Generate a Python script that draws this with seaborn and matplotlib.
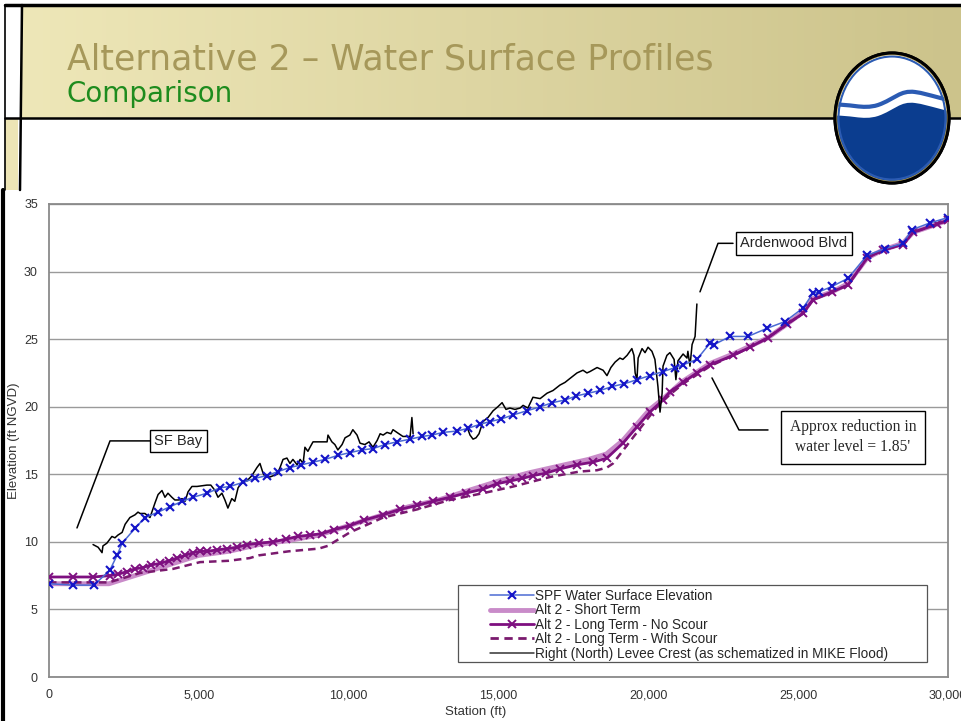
import numpy as np
import pandas as pd
import matplotlib
matplotlib.use("Agg")
from matplotlib import pyplot as plt
from matplotlib.lines import Line2D
from matplotlib.patches import Ellipse, Rectangle, PathPatch
from matplotlib.path import Path
from matplotlib.ticker import FuncFormatter, MultipleLocator
import seaborn as sns

# SPF water surface elevation (blue, x markers)
spf_station = [0, 800, 1500, 2030, 2270, 2440, 2870, 3200, 3640, 4040, 4440, 4810, 5270, 5710,
               6040, 6470, 6870, 7270, 7640, 8040, 8420, 8810, 9210, 9640, 10040, 10440, 10810,
               11210, 11610, 12050, 12450, 12780, 13150, 13620, 13980, 14380, 14720, 15100, 15500,
               15950, 16400, 16800, 17220, 17600, 18000, 18390, 18800, 19200, 19620, 20050, 20490,
               20900, 21160, 21620, 22057, 22200, 22725, 23325, 23960, 24560, 25160, 25495, 25700,
               26130, 26663, 27297, 27897, 28498, 28798, 29398, 30000]
spf_elev = [6.9, 6.8, 6.8, 7.9, 9.0, 9.9, 11.0, 11.8, 12.2, 12.6, 13.0, 13.3, 13.6, 14.0,
            14.1, 14.4, 14.7, 14.9, 15.2, 15.5, 15.7, 15.9, 16.1, 16.4, 16.6, 16.8, 16.9,
            17.2, 17.4, 17.6, 17.8, 17.9, 18.1, 18.2, 18.4, 18.7, 18.9, 19.1, 19.4,
            19.7, 20.0, 20.3, 20.5, 20.8, 21.0, 21.2, 21.5, 21.7, 22.0, 22.3, 22.6,
            22.9, 23.1, 23.5, 24.7, 24.6, 25.2, 25.2, 25.8, 26.3, 27.3, 28.4, 28.5,
            28.9, 29.5, 31.2, 31.7, 32.1, 33.1, 33.6, 34.0]

# Alt 2 - Short Term (thick light purple)
short_station = [0, 1500, 2000, 3000, 4000, 5000, 6000, 7000, 8000, 9000, 10000, 11000, 12000,
                 13000, 14000, 15000, 16000, 17000, 18000, 18600, 19150, 19620, 20050, 20500,
                 21160, 22060, 22830, 23990, 24620, 25160, 25490, 26130, 26660, 27300, 27830,
                 28500, 28830, 29630, 30000]
short_elev = [6.9, 6.9, 6.9, 7.6, 8.3, 9.0, 9.3, 9.8, 10.1, 10.5, 11.2, 11.9, 12.6,
              13.1, 13.8, 14.5, 15.1, 15.6, 16.1, 16.5, 17.5, 18.7, 19.8, 20.6,
              21.9, 23.2, 23.9, 25.1, 26.1, 27.0, 28.0, 28.5, 29.1, 31.0, 31.6,
              32.1, 32.9, 33.5, 33.8]

# Alt 2 - Long Term - No Scour (purple, x markers)
long_station = [0, 800, 1470, 2030, 2300, 2600, 2870, 3140, 3420, 3700, 4000, 4270, 4540, 4810,
                5050, 5270, 5600, 5940, 6270, 6610, 7000, 7480, 7900, 8300, 8700, 9100, 9500,
                10040, 10500, 11150, 11700, 12280, 12800, 13380, 13900, 14480, 14950, 15380,
                15800, 16150, 16600, 17050, 17620, 18150, 18620, 19150, 19620, 20050, 20490,
                20720, 21160, 21620, 22060, 22830, 23390, 23990, 24620, 25160, 25490, 26130,
                26660, 27300, 27830, 28500, 28830, 29630, 30000]
long_elev = [7.4, 7.4, 7.4, 7.5, 7.6, 7.8, 8.0, 8.1, 8.3, 8.4, 8.6, 8.8, 9.0, 9.2,
             9.3, 9.3, 9.4, 9.5, 9.6, 9.8, 9.9, 10.0, 10.2, 10.4, 10.5, 10.6, 10.9,
             11.2, 11.6, 12.0, 12.4, 12.7, 13.0, 13.3, 13.6, 13.9, 14.3, 14.5,
             14.7, 14.9, 15.1, 15.4, 15.7, 15.9, 16.2, 17.3, 18.5, 19.6, 20.5,
             21.1, 21.8, 22.5, 23.1, 23.8, 24.4, 25.1, 26.1, 26.9, 27.9, 28.5,
             29.0, 31.0, 31.6, 32.0, 32.9, 33.5, 33.8]

# Alt 2 - Long Term - With Scour (dashed)
scour_station = [0, 1500, 2000, 2600, 3040, 4140, 5040, 6000, 6700, 7000, 8000, 9000, 9300,
                 10040, 11150, 12280, 13380, 14480, 15500, 16720, 17700, 18290, 18620, 18820,
                 19620, 20290, 20720, 21160, 22060, 22830, 23390, 23990, 24620, 25160, 25490,
                 26130, 26660, 27300, 27830, 28500, 28830, 29630, 30000]
scour_elev = [7.0, 7.0, 7.0, 7.4, 7.7, 8.0, 8.5, 8.6, 8.8, 9.0, 9.3, 9.5, 9.7,
              10.7, 11.8, 12.4, 13.1, 13.6, 14.1, 14.8, 15.2, 15.3, 15.5, 15.8,
              18.1, 20.0, 20.9, 21.7, 23.0, 23.8, 24.4, 25.1, 26.1, 26.9, 27.9,
              28.5, 29.0, 31.0, 31.6, 32.0, 32.9, 33.5, 33.8]

# Right (North) levee crest, two surveyed reaches
levee1_station = [1470, 1640, 1770, 1800, 1930, 2100, 2200, 2300, 2440, 2540, 2700, 2870, 2970,
                  3040, 3200, 3370, 3540, 3640, 3770, 3870, 3970, 4100, 4200, 4340, 4440, 4540,
                  4640, 4770, 4940, 5270, 5400, 5540, 5640, 5770, 5870, 5970, 6100, 6200, 6310,
                  6440, 6600, 6770, 6940, 7040, 7140, 7210, 7370, 7610, 7710, 7810, 7940, 8040,
                  8140, 8280, 8380, 8480, 8540, 8640, 8710, 8810, 9280, 9310, 9440, 9540, 9640,
                  9780, 9880, 10040, 10140, 10280, 10380, 10540, 10680, 10810, 10950, 11050,
                  11150, 11280, 11410, 11480, 11610, 11810, 12050, 12110, 12150]
levee1_elev = [9.8, 9.6, 9.2, 9.7, 9.9, 10.4, 10.3, 10.5, 10.7, 11.3, 11.8, 12.0, 12.2,
               12.1, 12.1, 11.8, 12.9, 13.5, 13.8, 13.3, 13.6, 13.3, 13.1, 13.1, 13.2, 13.0,
               13.7, 14.1, 14.1, 14.2, 14.2, 13.8, 13.3, 13.6, 13.1, 12.5, 13.2, 13.0, 14.0,
               14.4, 14.5, 14.9, 15.5, 15.8, 15.1, 14.8, 14.8, 15.0, 15.5, 16.1, 16.2, 15.8,
               16.1, 15.7, 16.1, 15.8, 17.0, 16.7, 17.0, 17.4, 17.4, 17.9, 17.4, 17.2, 16.8,
               17.2, 17.7, 17.9, 18.3, 17.9, 17.3, 17.2, 17.4, 17.0, 17.5, 18.0,
               17.9, 18.1, 18.0, 18.3, 18.1, 17.8, 17.8, 19.2, 18.0]
levee2_station = [13950, 14050, 14150, 14250, 14350, 14480, 14650, 14820, 14980, 15120, 15250,
                  15380, 15550, 15720, 15820, 15980, 16150, 16390, 16620, 16820, 17050, 17220,
                  17390, 17620, 17820, 17950, 18050, 18290, 18490, 18620, 18750, 18890, 19050,
                  19150, 19290, 19450, 19520, 19560, 19620, 19660, 19790, 19890, 19990, 20120,
                  20220, 20320, 20390, 20460, 20490, 20620, 20720, 20860, 20920, 20990, 21160,
                  21290, 21320, 21390, 21460, 21560, 21620]
levee2_elev = [18.5, 17.9, 17.6, 17.7, 18.0, 18.9, 19.2, 19.7, 20.0, 20.3, 19.8,
               19.9, 19.8, 19.9, 20.1, 19.9, 20.7, 20.6, 21.0, 21.2, 21.6, 21.8,
               22.1, 22.5, 22.7, 22.5, 22.6, 22.9, 22.7, 22.3, 22.9, 23.3, 23.6,
               23.5, 23.8, 24.3, 23.8, 22.5, 22.0, 23.6, 24.3, 24.0, 24.4, 24.1,
               23.5, 21.5, 19.6, 21.0, 23.0, 23.8, 24.0, 23.5, 22.0, 23.4, 23.9,
               23.6, 24.1, 23.0, 24.6, 25.2, 27.6]

series_labels = ["SPF Water Surface Elevation", "Alt 2 - Short Term",
                 "Alt 2 - Long Term - No Scour", "Alt 2 - Long Term - With Scour",
                 "Right (North) Levee Crest (as schematized in MIKE Flood)"]

sns.set_style("white")
plt.rcParams["font.family"] = ["Liberation Sans", "DejaVu Sans"]

W, H = 962, 721
fig = plt.figure(figsize=(W / 100, H / 100), dpi=100)

# ---- slide decoration, drawn in pixel coordinates ----
deco = fig.add_axes([0, 0, 1, 1], zorder=0)
deco.set_xlim(0, W)
deco.set_ylim(H, 0)
deco.axis("off")

c_left = np.array([238, 231, 184]) / 255
c_right = np.array([204, 195, 139]) / 255
t = np.linspace(0, 1, 256)[:, None]
grad = (c_left * (1 - t) + c_right * t)[None, :, :]
deco.imshow(grad, extent=(21, W, 118, 5), aspect="auto", zorder=1)
deco.add_patch(Rectangle((5, 118), 13, 72, fc="#EDE5B6", ec="none", zorder=1))
deco.plot([5, W], [5, 5], color="black", lw=2.5, zorder=3)
deco.plot([5, W], [118, 118], color="black", lw=1.8, zorder=3)
deco.plot([5, 5], [5, 190], color="black", lw=1.2, zorder=3)
deco.plot([22, 20], [5, 190], color="black", lw=1.8, zorder=3)
deco.plot([3, 3], [190, H], color="black", lw=3, zorder=3)

# logo
rim = Ellipse((892, 118), 114, 130, fc="white", ec="black", lw=2.2, zorder=4)
deco.add_patch(rim)
water = Path([(830, 116), (850, 114), (862, 121), (878, 116),
              (895, 110), (900, 101), (915, 103),
              (930, 105), (945, 112), (960, 112),
              (960, 190), (830, 190), (830, 116)],
             [Path.MOVETO, Path.CURVE4, Path.CURVE4, Path.CURVE4,
              Path.CURVE4, Path.CURVE4, Path.CURVE4,
              Path.CURVE4, Path.CURVE4, Path.CURVE4,
              Path.LINETO, Path.LINETO, Path.CLOSEPOLY])
wp = PathPatch(water, fc="#0B3D8F", ec="none", zorder=5)
deco.add_patch(wp)
wp.set_clip_path(rim)
crest = Path([(830, 105), (850, 103), (862, 110), (878, 105),
              (895, 99), (900, 90), (915, 92),
              (930, 94), (945, 101), (960, 101)],
             [Path.MOVETO, Path.CURVE4, Path.CURVE4, Path.CURVE4,
              Path.CURVE4, Path.CURVE4, Path.CURVE4,
              Path.CURVE4, Path.CURVE4, Path.CURVE4])
cp = PathPatch(crest, fc="none", ec="#2B5BB3", lw=3, zorder=5)
deco.add_patch(cp)
cp.set_clip_path(rim)
deco.add_patch(Ellipse((892, 118), 107, 123, fc="none", ec="#2B5BB3", lw=1.5, zorder=5))
deco.add_patch(Ellipse((892, 118), 111, 127, fc="none", ec="#B9A45A", lw=1.0, zorder=5))
deco.add_patch(Ellipse((892, 118), 114, 130, fc="none", ec="black", lw=2.2, zorder=6))

fig.text(67 / W, 1 - 70 / H, "Alternative 2 \u2013 Water Surface Profiles", color="#A6985A",
         fontsize=25, family=["DejaVu Sans"], va="baseline")
fig.text(67 / W, 1 - 102 / H, "Comparison", color="#1E8C1E",
         fontsize=20, family=["DejaVu Sans"], va="baseline")

# ---- chart ----
ax = fig.add_axes([49 / W, 44 / H, 899 / W, 473 / H], zorder=2)

levee = pd.concat([
    pd.DataFrame({"station": levee1_station, "elev": levee1_elev, "seg": 1}),
    pd.DataFrame({"station": levee2_station, "elev": levee2_elev, "seg": 2}),
])
short_df = pd.DataFrame({"station": short_station, "elev": short_elev})
scour_df = pd.DataFrame({"station": scour_station, "elev": scour_elev})
long_df = pd.DataFrame({"station": long_station, "elev": long_elev})
spf_df = pd.DataFrame({"station": spf_station, "elev": spf_elev})

sns.lineplot(data=short_df, x="station", y="elev", ax=ax, estimator=None, sort=False,
             color="#C98BC9", lw=3.5, zorder=3, legend=False)
sns.lineplot(data=scour_df, x="station", y="elev", ax=ax, estimator=None, sort=False,
             color="#7A1A6E", lw=1.8, dashes=False, linestyle=(0, (3, 2)), zorder=4, legend=False)
sns.lineplot(data=long_df, x="station", y="elev", ax=ax, estimator=None, sort=False,
             color="#7E0F80", lw=2.0, marker="x", markersize=5.5,
             markeredgecolor="#7E0F80", markeredgewidth=1.4, zorder=5, legend=False)
sns.lineplot(data=levee, x="station", y="elev", units="seg", ax=ax, estimator=None, sort=False,
             color="black", lw=1.1, zorder=6, legend=False)
sns.lineplot(data=spf_df, x="station", y="elev", ax=ax, estimator=None, sort=False,
             color="#4B6BD3", lw=1.1, marker="x", markersize=6,
             markeredgecolor="#1515C8", markeredgewidth=1.5, zorder=7, legend=False)

ax.set_xlim(0, 30000)
ax.set_ylim(0, 35)
ax.xaxis.set_major_locator(MultipleLocator(5000))
ax.yaxis.set_major_locator(MultipleLocator(5))
ax.xaxis.set_major_formatter(FuncFormatter(lambda v, p: f"{v:,.0f}"))
ax.grid(axis="y", color="#9A9A9A", lw=1)
ax.grid(axis="x", visible=False)
for s in ax.spines.values():
    s.set_color("#8A8A8A")
    s.set_linewidth(1.3)
ax.tick_params(axis="both", direction="out", length=4, width=1, color="#8A8A8A",
               labelsize=9, labelcolor="#333333")
ax.tick_params(axis="y", pad=4)
ax.tick_params(axis="x", pad=5)
ax.set_xlabel("Station (ft)", fontsize=9.5, color="#333333")
ax.set_ylabel("Elevation (ft NGVD)", fontsize=9.5, color="#333333", labelpad=3)
ax.xaxis.set_label_coords(0.475, -0.062)

# legend with its own frame
ax.add_patch(Rectangle((0.455, 0.032), 0.522, 0.163, transform=ax.transAxes,
                       fc="white", ec="#555555", lw=0.9, zorder=8))
handles = [
    Line2D([], [], color="#4B6BD3", lw=1.1, marker="x", ms=6, mec="#1515C8", mew=1.5),
    Line2D([], [], color="#C98BC9", lw=3.5),
    Line2D([], [], color="#7E0F80", lw=2.0, marker="x", ms=5.5, mec="#7E0F80", mew=1.4),
    Line2D([], [], color="#7A1A6E", lw=2.0, linestyle=(0, (3, 2))),
    Line2D([], [], color="#333333", lw=1.1),
]
leg = ax.legend(handles, series_labels, loc="upper left", bbox_to_anchor=(0.4906, 0.186),
                frameon=False, fontsize=9.8, labelspacing=0.03, handlelength=3.2,
                handletextpad=0.1, borderpad=0, borderaxespad=0, numpoints=1)
leg.set_zorder(9)

# callouts
box = dict(boxstyle="square,pad=0.3", fc="white", ec="black", lw=1)
ax.plot([3370, 2036, 934], [17.47, 17.47, 11.03], color="black", lw=1.1, zorder=8)
ax.text(4321, 17.47, "SF Bay", fontsize=10.5, ha="center", va="center", bbox=box, zorder=9)
ax.plot([22826, 22325, 21724], [32.09, 32.09, 28.5], color="black", lw=1.1, zorder=8)
ax.text(24860, 32.09, "Ardenwood Blvd", fontsize=10.5, ha="center", va="center", bbox=box, zorder=9)
ax.plot([23993, 23025, 22124], [18.28, 18.28, 22.13], color="black", lw=1.1, zorder=8)
ax.text(26830, 17.73, "Approx reduction in\nwater level = 1.85'", fontsize=11.2,
        family=["Liberation Serif"], ha="center", va="center", linespacing=1.35,
        bbox=dict(boxstyle="square,pad=0.55", fc="white", ec="black", lw=1), zorder=9)

fig.savefig("out.png", dpi=100)
